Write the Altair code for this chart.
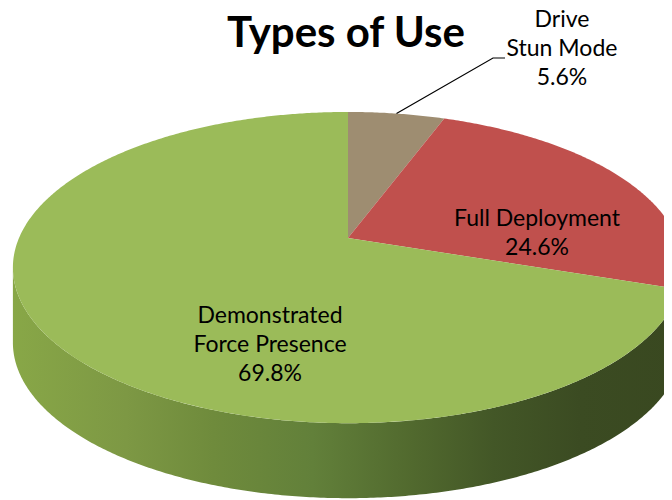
import numpy as np
import pandas as pd
import altair as alt

# ---------------- data ----------------
categories = ["Drive Stun Mode", "Full Deployment", "Demonstrated Force Presence"]
label_lines = [["Drive", "Stun Mode"], ["Full Deployment"], ["Demonstrated", "Force Presence"]]
shares = [5.6, 24.6, 69.8]
title_text = "Types of Use"

# ---------------- styles / layout ----------------
top_colors = ["#9e8d71", "#c0504d", "#9bbb59"]
side_colors = ["#6c604e", "#8a3a38", "#6e8a3c"]
FONT = "Lato"
# label anchor (centre x, first baseline y) in page pixels
label_pos = [(562, 27), (537, 226), (270, 323)]
leader_elbow = [(493, 58), (505, 58)]

# 3-D pie geometry (page pixels): apex, radii, perspective, thickness
CX, CY, RX, RY, K, DEPTH = 348, 238, 329, 150, 0.19, 75
W, H = 656, 492
xs = alt.Scale(domain=[8, 8 + W], nice=False, zero=False)
ys = alt.Scale(domain=[8, 8 + H], nice=False, zero=False, reverse=True)


def proj(theta_deg, drop=0.0):
    t = np.radians(theta_deg)
    u, v = np.sin(t), np.cos(t)
    d = 1 + K * v
    return CX + RX * u / d, CY - RY * v / d + drop


bounds = np.concatenate([[0], np.cumsum(shares)]) / 100 * 360

# top faces
top_rows = []
for i, cat in enumerate(categories):
    a0, a1 = bounds[i], bounds[i + 1]
    n = max(int((a1 - a0) / 0.5), 2)
    top_rows.append(dict(slice=cat, o=0, x=CX, y=CY))
    for j, a in enumerate(np.linspace(a0, a1, n + 1)):
        x, y = proj(a)
        top_rows.append(dict(slice=cat, o=j + 1, x=x, y=y))
    top_rows.append(dict(slice=cat, o=n + 3, x=CX, y=CY))
top_df = pd.DataFrame(top_rows)

# visible sides (front half)
thR = np.degrees(np.arccos(-K))
thL = 360 - thR
side_rows = []
for i, cat in enumerate(categories):
    lo, hi = max(bounds[i], thR), min(bounds[i + 1], thL)
    if lo >= hi:
        continue
    n = max(int((hi - lo) / 0.5), 2)
    angs = np.linspace(lo, hi, n + 1)
    o = 0
    for a in angs:
        x, y = proj(a)
        side_rows.append(dict(part=cat, o=o, x=x, y=y)); o += 1
    for a in angs[::-1]:
        x, y = proj(a, DEPTH)
        side_rows.append(dict(part=cat, o=o, x=x, y=y)); o += 1
side_df = pd.DataFrame(side_rows)

color_scale = alt.Scale(domain=categories, range=top_colors)
side_scale = alt.Scale(domain=categories, range=side_colors)

green = categories[2]
side_green = side_df[side_df.part == green]
side_other = side_df[side_df.part != green]

gradient = alt.Gradient(
    gradient="linear",
    stops=[
        alt.GradientStop(color="#88a747", offset=0),
        alt.GradientStop(color="#7d9844", offset=0.17),
        alt.GradientStop(color="#6f8b3c", offset=0.30),
        alt.GradientStop(color="#62803a", offset=0.45),
        alt.GradientStop(color="#51692e", offset=0.60),
        alt.GradientStop(color="#435727", offset=0.72),
        alt.GradientStop(color="#3b4b22", offset=0.85),
        alt.GradientStop(color="#394820", offset=1),
    ],
    x1=0, x2=1, y1=0, y2=0,
)

X = alt.X("x:Q", scale=xs, axis=None)
Y = alt.Y("y:Q", scale=ys, axis=None)

side_green_layer = alt.Chart(side_green).mark_line(
    filled=True, fill=gradient, interpolate="linear-closed", clip=True, strokeWidth=0
).encode(x=X, y=Y, order="o:Q")

side_other_layer = alt.Chart(side_other).mark_line(
    filled=True, interpolate="linear-closed", clip=True
).encode(
    x=X, y=Y, order="o:Q", detail="part:N",
    fill=alt.Fill("part:N", scale=side_scale, legend=None),
)

top_layer = alt.Chart(top_df).mark_line(
    filled=True, interpolate="linear-closed", clip=True
).encode(
    x=X, y=Y, order="o:Q", detail="slice:N",
    color=alt.Color("slice:N", scale=color_scale, legend=None),
)

# leader line for the small slice
mid0 = (bounds[0] + bounds[1]) / 2
ax, ay = proj(mid0)
leader_df = pd.DataFrame(
    [dict(o=0, x=ax, y=ay)] + [dict(o=i + 1, x=p[0], y=p[1]) for i, p in enumerate(leader_elbow)]
)
leader_layer = alt.Chart(leader_df).mark_line(color="black", strokeWidth=1.2).encode(
    x=X, y=Y, order="o:Q"
)

# labels
lab_rows = []
for i, cat in enumerate(categories):
    txt = "\n".join(label_lines[i] + [f"{shares[i]:.1f}%"])
    lab_rows.append(dict(slice=cat, text=txt, x=label_pos[i][0], y=label_pos[i][1]))
lab_df = pd.DataFrame(lab_rows)
label_layer = alt.Chart(lab_df).mark_text(
    font=FONT, fontSize=23, color="black", align="center", baseline="alphabetic",
    lineBreak="\n", lineHeight=29,
).encode(x=X, y=Y, text="text:N")

title_df = pd.DataFrame([dict(text=title_text, x=346, y=47)])
title_layer = alt.Chart(title_df).mark_text(
    font=FONT, fontSize=42, fontWeight="bold", color="black", align="center",
    baseline="alphabetic",
).encode(x=X, y=Y, text="text:N")

chart = alt.layer(
    side_green_layer, side_other_layer, top_layer, leader_layer, label_layer, title_layer
).resolve_scale(color="independent", fill="independent").properties(
    width=W, height=H, padding=0, autosize=alt.AutoSizeParams(type="none"), background="white"
).configure_view(stroke=None)

chart.save("out.html", embed_options={"renderer": "svg", "actions": False})
